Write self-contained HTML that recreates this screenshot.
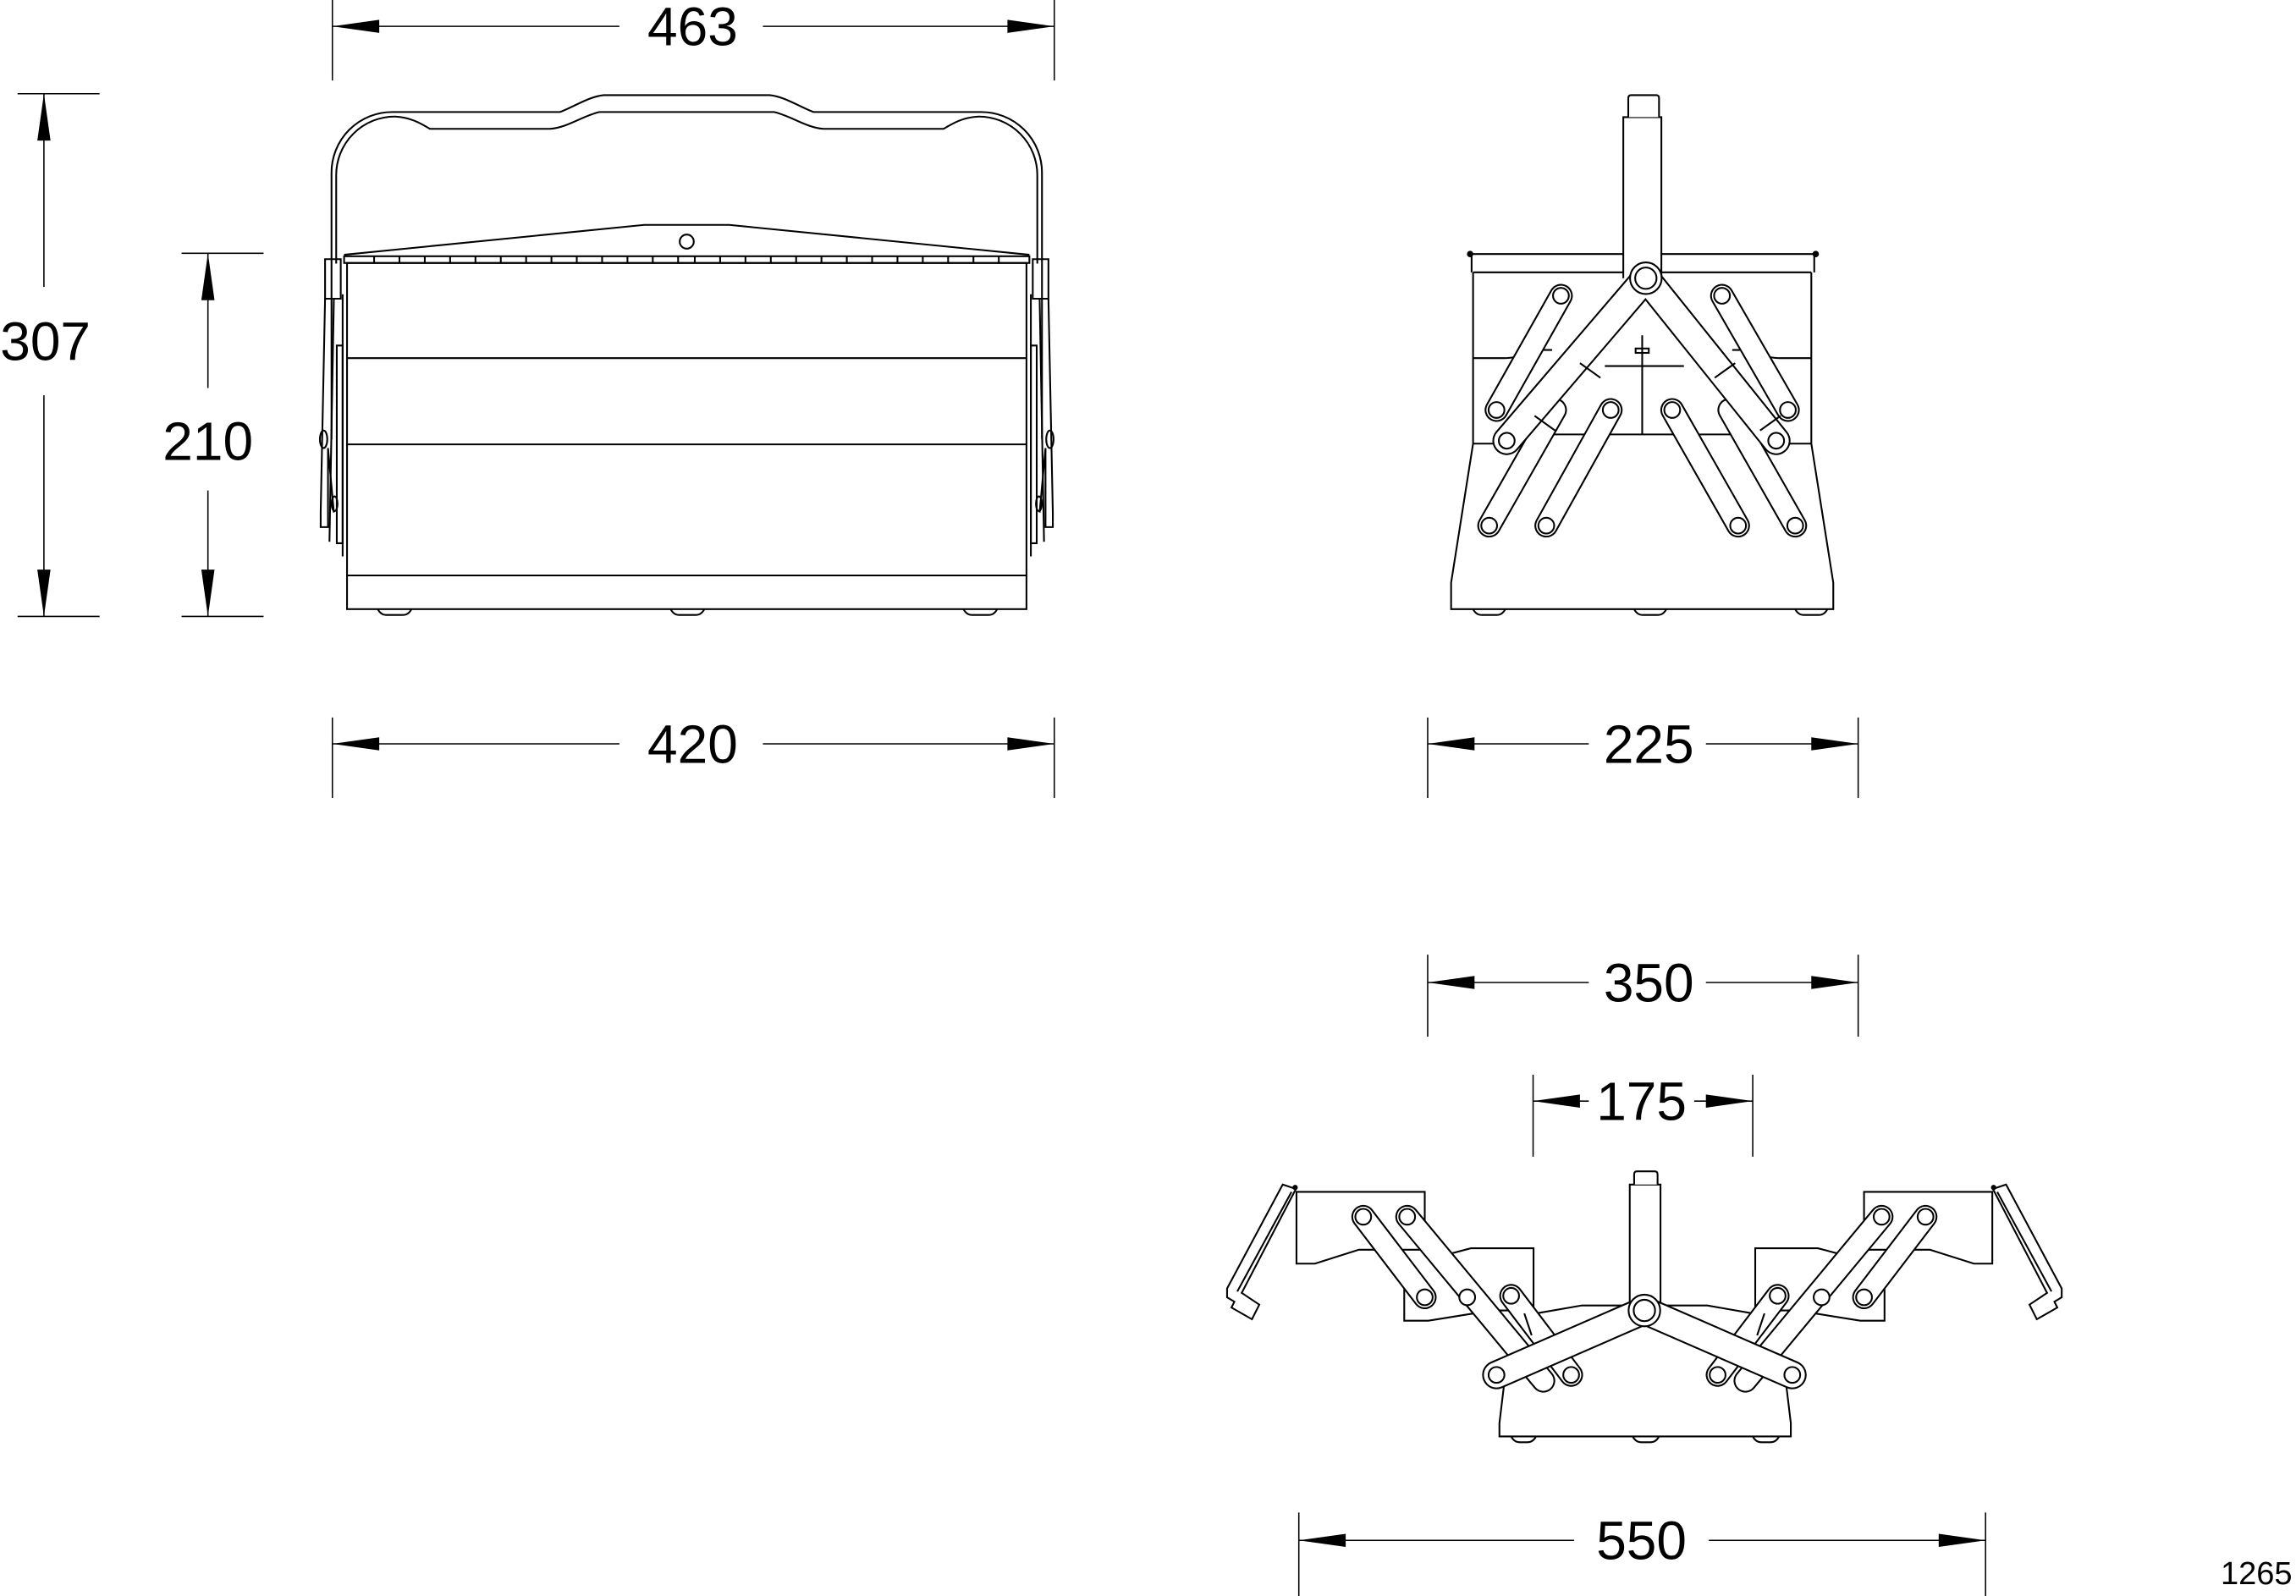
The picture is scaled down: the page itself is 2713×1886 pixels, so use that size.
<!DOCTYPE html>
<html><head><meta charset="utf-8"><style>
html,body{margin:0;padding:0;background:#fff}
svg{display:block}
text{font-family:"Liberation Sans",sans-serif;font-size:37px;fill:#000;text-anchor:middle}
.s{fill:none;stroke:#000;stroke-width:1.2}
.f{fill:#fff;stroke:#000;stroke-width:1.2}
.b{stroke:#000;stroke-linecap:round}
.w{stroke:#fff;stroke-linecap:round}
.d{stroke:#000;stroke-width:0.9;fill:none}
</style></head><body>
<svg width="2713" height="1886" viewBox="0 0 1568 1090" preserveAspectRatio="none" xmlns="http://www.w3.org/2000/svg">
<defs>
<path id="ar" d="M0,0 L32,-4.5 L32,4.5 Z" fill="#000"/>
</defs>

<!-- ===== DIMENSIONS ===== -->
<!-- 463 -->
<g class="d"><path d="M227,0V55M720,0V55M227,18H423M521,18H720"/></g>
<use href="#ar" transform="translate(227,18)"/><use href="#ar" transform="translate(720,18) scale(-1,1)"/>
<text x="473" y="31">463</text>
<!-- 420 -->
<g class="d"><path d="M227,490V545M720,490V545M227,508H423M521,508H720"/></g>
<use href="#ar" transform="translate(227,508)"/><use href="#ar" transform="translate(720,508) scale(-1,1)"/>
<text x="473" y="521">420</text>
<!-- 307 -->
<g class="d"><path d="M12,64H68M12,421H68M30,64V196M30,270V421"/></g>
<use href="#ar" transform="translate(30,64) rotate(90)"/><use href="#ar" transform="translate(30,421) rotate(-90)"/>
<text x="31" y="246">307</text>
<!-- 210 -->
<g class="d"><path d="M124,173H180M124,421H180M142,173V265M142,335V421"/></g>
<use href="#ar" transform="translate(142,173) rotate(90)"/><use href="#ar" transform="translate(142,421) rotate(-90)"/>
<text x="142" y="314">210</text>
<!-- 225 -->
<g class="d"><path d="M975,490V545M1269,490V545M975,508H1085M1165,508H1269"/></g>
<use href="#ar" transform="translate(975,508)"/><use href="#ar" transform="translate(1269,508) scale(-1,1)"/>
<text x="1126" y="521">225</text>
<!-- 350 -->
<g class="d"><path d="M975,652V708M1269,652V708M975,671H1085M1165,671H1269"/></g>
<use href="#ar" transform="translate(975,671)"/><use href="#ar" transform="translate(1269,671) scale(-1,1)"/>
<text x="1126" y="684">350</text>
<!-- 175 -->
<g class="d"><path d="M1047,734V790M1197,734V790M1047,752H1085M1157,752H1197"/></g>
<use href="#ar" transform="translate(1047,752)"/><use href="#ar" transform="translate(1197,752) scale(-1,1)"/>
<text x="1121" y="765">175</text>
<!-- 550 -->
<g class="d"><path d="M887,1033V1090M1356,1033V1090M887,1052H1075M1167,1052H1356"/></g>
<use href="#ar" transform="translate(887,1052)"/><use href="#ar" transform="translate(1356,1052) scale(-1,1)"/>
<text x="1121" y="1065">550</text>
<text x="1541" y="1082" style="font-size:22px">1265</text>

<!-- ===== FRONT VIEW ===== -->
<g id="fh">
<!-- handle half -->
<path class="s" d="M226.4,300V118 A41.4,41.4 0 0 1 268,76.5 H382.4 C392,73 402,66 412.3,65 H469"/>
<path class="s" d="M229.6,180V120 A40,40 0 0 1 269.7,79.6 C280,80 287,84 293.6,88 H375.7 C388,87 398,79 409.4,76.5 H469"/>
<!-- hinge bracket -->
<path class="s" d="M222,177H232.7V204H222Z"/>
<path class="s" d="M222,204L219,350V360H224V306L228,350"/>
<path class="s" d="M228,204L225,370"/>
<path class="s" d="M230,236H234V371H230Z"/>
<path class="s" d="M234,201V380"/>
<ellipse class="s" cx="221" cy="300" rx="2.5" ry="6"/>
<ellipse class="s" cx="228.5" cy="344" rx="2" ry="5"/>
</g>
<use href="#fh" transform="matrix(-1 0 0 1 938 0)"/>
<!-- lid -->
<path class="s" d="M235,174 L440,153.6 H498 L703,174"/>
<circle class="s" cx="469" cy="165" r="4.8"/>
<rect class="s" x="235" y="175" width="468" height="4.6"/>
<path class="s" d="M255.5,175v4.6M272.8,175v4.6M290.1,175v4.6M307.4,175v4.6M324.7,175v4.6M342,175v4.6M359.3,175v4.6M376.6,175v4.6M393.9,175v4.6M411.2,175v4.6M428.5,175v4.6M445.8,175v4.6M463.1,175v4.6M474.5,175v4.6M491.8,175v4.6M509.1,175v4.6M526.4,175v4.6M543.7,175v4.6M561,175v4.6M578.3,175v4.6M595.6,175v4.6M612.9,175v4.6M630.2,175v4.6M647.5,175v4.6M664.8,175v4.6M682.1,175v4.6"/>
<!-- body -->
<rect class="s" x="237" y="179.6" width="464" height="236.4"/>
<path class="s" d="M237,244.6H701M237,303.5H701M237,393H701"/>
<path class="s" d="M258,416 Q260,420 264,420 H275 Q279,420 281,416M458,416 Q460,420 464,420 H475 Q479,420 481,416M658,416 Q660,420 664,420 H675 Q679,420 681,416"/>

<!-- ===== SIDE VIEW ===== -->
<path class="s" d="M1006,303 L991,398 V416 H1252 V398 L1237,303"/>
<path class="s" d="M1006,303 V186 M1237,303 V186"/>
<path class="s" d="M1004,173.5 H1240 M1006,186 H1237 M1005,175 V186 M1239,175 V186"/>
<circle cx="1004" cy="173.5" r="2.2" fill="#000"/><circle cx="1240" cy="173.5" r="2.2" fill="#000"/>
<path class="s" d="M1006,244.6 H1028 Q1040,244 1047,239 H1060 M1237,244.6 H1215 Q1203,244 1196,239 H1183 M1096,250 H1150 M1060,296.7 H1185 M1006,303 H1020 M1237,303 H1222 M1121.5,229 V296.7"/>
<rect class="s" x="1117" y="238" width="9" height="3"/>
<!-- handle -->
<path class="f" d="M1108.6,190 V80 H1134.6 V190"/>
<path class="f" d="M1112,80 V67 Q1112,65 1114,65 H1131 Q1133,65 1133,67 V80"/>
<g stroke-width="16.2" class="b"><line x1="1066" y1="202" x2="1022" y2="280"/><line x1="1176" y1="202" x2="1221" y2="280"/></g>
<g stroke-width="13.8" class="w"><line x1="1066" y1="202" x2="1022" y2="280"/><line x1="1176" y1="202" x2="1221" y2="280"/></g>
<g stroke-width="16.2" class="b"><line x1="1062" y1="280" x2="1017" y2="359"/><line x1="1181" y1="280" x2="1226" y2="359"/></g>
<g stroke-width="13.8" class="w"><line x1="1062" y1="280" x2="1017" y2="359"/><line x1="1181" y1="280" x2="1226" y2="359"/></g>
<g stroke-width="16.2" class="b"><line x1="1100" y1="280" x2="1056" y2="359"/><line x1="1142" y1="280" x2="1187" y2="359"/></g>
<g stroke-width="13.8" class="w"><line x1="1100" y1="280" x2="1056" y2="359"/><line x1="1142" y1="280" x2="1187" y2="359"/></g>
<g stroke-width="19.6" class="b"><line x1="1124" y1="190" x2="1029" y2="301"/><line x1="1124" y1="190" x2="1213" y2="301"/></g>
<g stroke-width="17.2" class="w"><line x1="1124" y1="190" x2="1029" y2="301"/><line x1="1124" y1="190" x2="1213" y2="301"/></g>
<circle cx="1124" cy="190" r="10.8" fill="#fff" stroke="#000" stroke-width="1.2"/>
<path class="s" d="M1079,248 l14,10 M1185,248 l-14,10 M1048,284 l14,10 M1216,284 l-14,10"/>
<g class="f">
<circle cx="1124" cy="190" r="7.3"/>
<circle cx="1066" cy="202" r="5.4"/><circle cx="1022" cy="280" r="5.4"/>
<circle cx="1176" cy="202" r="5.4"/><circle cx="1221" cy="280" r="5.4"/>
<circle cx="1100" cy="280" r="5.4"/><circle cx="1056" cy="359" r="5.4"/>
<circle cx="1142" cy="280" r="5.4"/><circle cx="1187" cy="359" r="5.4"/>
<circle cx="1017" cy="359" r="5.4"/><circle cx="1226" cy="359" r="5.4"/>
<circle cx="1029" cy="301" r="5.4"/><circle cx="1213" cy="301" r="5.4"/>
</g>
<path class="s" d="M1006,416 Q1008,420 1012,420 H1022 Q1026,420 1028,416M1116,416 Q1118,420 1122,420 H1132 Q1136,420 1138,416M1226,416 Q1228,420 1232,420 H1242 Q1246,420 1248,416"/>

<!-- ===== OPEN VIEW ===== -->
<!-- base -->
<path class="s" d="M1027,947 L1024,972 V981 H1223 V972 L1220,947"/>
<path class="s" d="M1032,981 Q1034,985 1038,985 H1043 Q1047,985 1049,981M1115,981 Q1117,985 1121,985 H1127 Q1131,985 1133,981M1197,981 Q1199,985 1203,985 H1209 Q1213,985 1215,981"/>
<path class="s" d="M1080,891.6 H1166 L1197,897 M1080,891.6 L1049,897"/>
<!-- handle -->
<path class="f" d="M1113,900 V809 H1134 V900"/>
<path class="f" d="M1116,809 V802 Q1116,800 1118,800 H1130 Q1132,800 1132,802 V809"/>
<g id="oh">
<path class="s" d="M1273,853.5 V814 H1360.6 V863 H1348 L1318,853.5 H1273"/>
<path class="s" d="M1198.7,897 V852.5 H1241.5 L1258.5,857 M1287,870 V902 H1270.5 L1227,895 H1198.7"/>
<path class="f" d="M1361,812 L1370,809 L1408,880 L1408,886 L1403,889 L1405,893 L1391,901 L1386,891 L1398,883 Z"/>
<path class="s" d="M1364,814 L1401,882"/>
<circle cx="1361.5" cy="811" r="1.8" fill="#000"/>
<g stroke-width="16.2" class="b"><line x1="1315" y1="831" x2="1273" y2="886"/></g>
<g stroke-width="13.8" class="w"><line x1="1315" y1="831" x2="1273" y2="886"/></g>
<g stroke-width="16.2" class="b"><line x1="1285" y1="831" x2="1192" y2="943"/></g>
<g stroke-width="13.8" class="w"><line x1="1285" y1="831" x2="1192" y2="943"/></g>
<g stroke-width="16.2" class="b"><line x1="1214" y1="885" x2="1173" y2="939"/></g>
<g stroke-width="13.8" class="w"><line x1="1214" y1="885" x2="1173" y2="939"/></g>
<path class="s" d="M1205,897 L1200,912 M1155,902 L1150,914"/>
<g stroke-width="19.6" class="b"><line x1="1123" y1="895" x2="1224" y2="939"/></g>
<g stroke-width="17.2" class="w"><line x1="1123" y1="895" x2="1224" y2="939"/></g>
<g class="f">
<circle cx="1315" cy="831" r="5.4"/><circle cx="1273" cy="886" r="5.4"/>
<circle cx="1285" cy="831" r="5.4"/><circle cx="1244" cy="886" r="5.4"/>
<circle cx="1214" cy="885" r="5.4"/><circle cx="1173" cy="939" r="5.4"/>
<circle cx="1224" cy="939" r="5.4"/>
</g>
</g>
<use href="#oh" transform="matrix(-1 0 0 1 2246 0)"/>
<circle cx="1123" cy="895" r="10.8" fill="#fff" stroke="#000" stroke-width="1.2"/>
<circle cx="1123" cy="895" r="7.3" class="f"/>
</svg>
</body></html>
